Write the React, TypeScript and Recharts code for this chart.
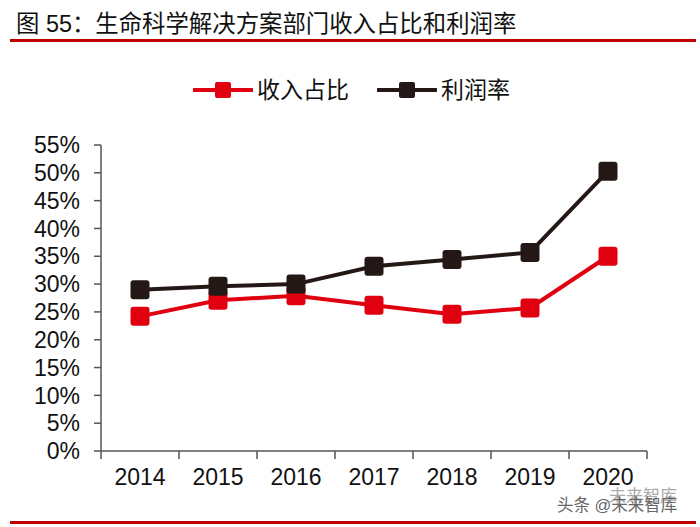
import React from 'react';
import { LineChart, Line, XAxis, YAxis, Legend } from 'recharts';

const years = ['2014', '2015', '2016', '2017', '2018', '2019', '2020'];
const revenueShare = [24.2, 27.1, 27.9, 26.2, 24.6, 25.7, 35.0];
const profitRate = [29.0, 29.6, 30.0, 33.2, 34.4, 35.7, 50.3];
const yTicks = [0, 5, 10, 15, 20, 25, 30, 35, 40, 45, 50, 55];

const data = years.map((year, i) => ({
  year,
  share: revenueShare[i],
  profit: profitRate[i],
}));

const FONT = 'Liberation Sans, "Noto Sans CJK SC", sans-serif';
const BAND = 78;
const RED = '#e0000f';
const BLACK = '#231815';

const SquareDot = (props: any) => {
  const { cx, cy, stroke } = props;
  return <rect x={cx - 9.5} y={cy - 9.5} width={19} height={19} fill={stroke} rx={3} />;
};

// tick marks sit between the categories, labels in the middle
const YearTick = (props: any) => {
  const { x, y, payload, index } = props;
  return (
    <g>
      <line x1={x - BAND / 2} x2={x - BAND / 2} y1={y - 8} y2={y} stroke="#555" strokeWidth={1.5} />
      {index === years.length - 1 && (
        <line x1={x + BAND / 2} x2={x + BAND / 2} y1={y - 8} y2={y} stroke="#555" strokeWidth={1.5} />
      )}
      <text x={x} y={y + 26} textAnchor="middle" fontSize={23} fill="#111" fontFamily={FONT}>
        {payload.value}
      </text>
    </g>
  );
};

const LegendKey = ({ color, label, gap }: { color: string; label: string; gap: number }) => (
  <span style={{ display: 'inline-flex', alignItems: 'center', marginRight: gap }}>
    <svg width={60} height={20} style={{ marginRight: 4 }}>
      <line x1={1} x2={59} y1={10} y2={10} stroke={color} strokeWidth={4} strokeLinecap="round" />
      <rect x={22} y={2} width={16} height={16} fill={color} rx={2} />
    </svg>
    {label}
  </span>
);

const App = () => {
  return (
    <div style={{ position: 'absolute', left: 0, top: 0, width: 700, height: 527, background: '#fff', fontFamily: FONT }}>
      <div style={{ position: 'absolute', left: 16, top: 9, fontSize: 23.4, lineHeight: '30px', color: '#111', whiteSpace: 'nowrap' }}>
        图 55：生命科学解决方案部门收入占比和利润率
      </div>
      <div style={{ position: 'absolute', left: 10, top: 39, width: 686, height: 2.5, background: '#c00000' }} />
      <div style={{ position: 'absolute', left: 10, top: 521, width: 686, height: 2.5, background: '#c00000' }} />
      <LineChart
        width={700}
        height={527}
        data={data}
        style={{ position: 'absolute', left: 0, top: 0 }}
        margin={{ top: 145, right: 53, bottom: 44, left: 0 }}
      >
        <XAxis
          dataKey="year"
          scale="band"
          interval={0}
          tick={<YearTick />}
          tickLine={false}
          stroke="#555"
          strokeWidth={1.5}
          height={32}
        />
        <YAxis
          domain={[0, 55]}
          ticks={yTicks}
          interval={0}
          tickFormatter={(v) => `${v}%`}
          tick={{ fontSize: 23, fill: '#111', fontFamily: FONT }}
          tickSize={7}
          tickMargin={14}
          stroke="#555"
          strokeWidth={1.5}
          width={101}
        />
        <Legend
          verticalAlign="top"
          align="left"
          wrapperStyle={{ left: 0, top: 0, width: 700, height: 0 }}
          content={() => (
            <div style={{ position: 'absolute', left: 193, top: 74, display: 'flex', alignItems: 'center', fontSize: 23, lineHeight: '32px', color: '#111', fontFamily: FONT, whiteSpace: 'nowrap' }}>
              <LegendKey color={RED} label="收入占比" gap={28} />
              <LegendKey color={BLACK} label="利润率" gap={0} />
            </div>
          )}
        />
        <Line dataKey="share" name="收入占比" stroke={RED} strokeWidth={4} dot={<SquareDot />} isAnimationActive={false} />
        <Line dataKey="profit" name="利润率" stroke={BLACK} strokeWidth={4} dot={<SquareDot />} isAnimationActive={false} />
      </LineChart>
      <div style={{ position: 'absolute', left: 609, top: 487, fontSize: 17, lineHeight: '20px', color: '#aaa', whiteSpace: 'nowrap' }}>
        未来智库
      </div>
      <div style={{ position: 'absolute', left: 557, top: 495, fontSize: 16.5, lineHeight: '20px', color: '#666', whiteSpace: 'nowrap' }}>
        头条 @未来智库
      </div>
    </div>
  );
};

export default App;
